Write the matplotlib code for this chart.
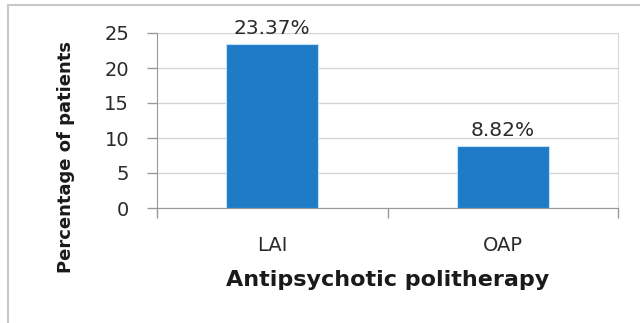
import matplotlib.pyplot as plt
from matplotlib.patches import Rectangle

categories = ['LAI', 'OAP']
values = [23.37, 8.82]
value_labels = ['23.37%', '8.82%']
yticks = [0, 5, 10, 15, 20, 25]

plt.rcParams['font.family'] = ['DejaVu Sans']

fig = plt.figure(figsize=(6.4, 3.23), dpi=100)
W, H = 640, 323
# plot area: x 157..618, y 33..208 (pixels from top)
ax = fig.add_axes([157 / W, 1 - 208 / H, (618 - 157) / W, (208 - 33) / H])

# outer chart frame (only left and top visible in the reference)
fig.patches.append(Rectangle((8 / W, -0.1), 1.2, 1 - 5 / H + 0.1, transform=fig.transFigure,
                             fill=False, edgecolor='#c8c8c8', linewidth=1.5))

x = range(len(categories))
ax.bar(x, values, width=0.4, color='#1f7bc6', edgecolor='#bfe2fb', linewidth=0.8, zorder=3)

for i, (v, lab) in enumerate(zip(values, value_labels)):
    ax.text(i, v + 0.9, lab, ha='center', va='bottom', fontsize=14.5, color='#2a2a2a', zorder=4)

ax.set_xlim(-0.5, 1.5)
ax.set_ylim(0, 25)
ax.set_yticks(yticks)
ax.set_yticklabels([str(t) for t in yticks], fontsize=14, color='#2a2a2a')
ax.set_xticks(list(x))
ax.set_xticklabels(categories, fontsize=14, color='#2a2a2a')
ax.set_xticks([-0.5, 0.5, 1.5], minor=True)

ax.grid(axis='y', color='#d4d4d4', linewidth=1, zorder=0)
ax.tick_params(axis='y', length=7, width=1, color='#999999', pad=13)
ax.tick_params(axis='x', which='major', length=0, pad=20)
ax.tick_params(axis='x', which='minor', length=7, width=1, color='#999999')

ax.spines['top'].set_visible(False)
ax.spines['right'].set_color('#dadada')
ax.spines['left'].set_color('#999999')
ax.spines['bottom'].set_color('#999999')

ax.set_xlabel('Antipsychotic politherapy', fontsize=16, fontweight='bold', color='#1a1a1a')
ax.xaxis.set_label_coords(0.5, -(270 - 208) / (208 - 33))
ax.set_ylabel('Percentage of patients', fontsize=13, fontweight='bold', color='#1a1a1a')
ax.yaxis.set_label_coords(-(157 - 75) / (618 - 157), 1 - (157 - 33) / (208 - 33))

fig.savefig('out.png', dpi=100)
